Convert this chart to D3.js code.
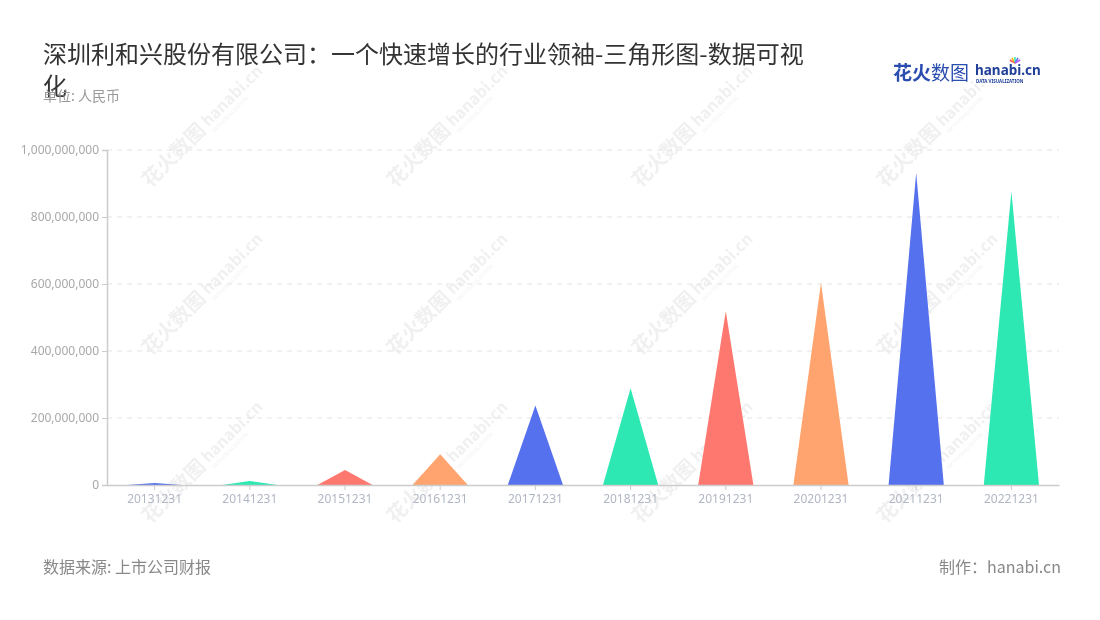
<!DOCTYPE html>
<html><head><meta charset="utf-8">
<script src="https://cdn.jsdelivr.net/npm/d3@7/dist/d3.min.js"></script>
<style>
body{margin:0;background:#fff;}
svg{display:block;font-family:"Noto Sans CJK SC","Noto Sans",sans-serif;}
</style></head>
<body><svg id="c" width="1100" height="620"></svg>
<script>
const titleLines = ["深圳利和兴股份有限公司：一个快速增长的行业领袖-三角形图-数据可视", "化"];
const subtitle = "单位: 人民币";
const source = "数据来源: 上市公司财报";
const maker = "制作：hanabi.cn";
const categories = ["20131231","20141231","20151231","20161231","20171231","20181231","20191231","20201231","20211231","20221231"];
const values = [6000000, 12000000, 45000000, 92000000, 237000000, 289000000, 519000000, 604000000, 932000000, 876000000];
const colors = ["#5671ee","#2de8b3","#ff7870","#ffa46f"];
const yTicks = [0, 200000000, 400000000, 600000000, 800000000, 1000000000];

const svg = d3.select("#c");
const m = {left:107, right:1059, top:150, bottom:485};

// watermark
const wm = svg.append("g").attr("opacity",0.22);
const wmCols=[180,425,670,915], wmRows=[150,318,486];
wmRows.forEach(ry=>wmCols.forEach(cx=>{
  const g = wm.append("g").attr("transform",`translate(${cx},${ry}) rotate(-45)`);
  g.append("text").attr("x",-48).attr("y",6).attr("font-size",20).attr("font-weight","bold").attr("fill","#bbb").text("花火数图");
  g.append("text").attr("x",36).attr("y",4).attr("font-size",16).attr("font-weight","bold").attr("fill","#bbb").text("hanabi.cn");
  g.append("text").attr("x",36).attr("y",12).attr("font-size",5).attr("fill","#bbb").text("DATA VISUALIZATION");
}));

const x = d3.scaleBand().domain(categories).range([m.left, m.right]).paddingInner(0).paddingOuter(0);
const y = d3.scaleLinear().domain([0,1000000000]).range([m.bottom, m.top]);

// grid
svg.append("g").selectAll("line").data(yTicks.filter(d=>d>0)).join("line")
  .attr("x1",m.left).attr("x2",m.right).attr("y1",d=>y(d)).attr("y2",d=>y(d))
  .attr("stroke","#e3e3e3").attr("stroke-dasharray","5,5").attr("stroke-width",1);

// triangles
const bw = x.bandwidth()*0.58;
svg.append("g").selectAll("path").data(values).join("path")
  .attr("d",(d,i)=>{
    const cx = x(categories[i]) + x.bandwidth()/2;
    return `M${cx-bw/2},${y(0)} L${cx},${y(d)} L${cx+bw/2},${y(0)} Z`;
  })
  .attr("fill",(d,i)=>colors[i%4]);

// y axis
const ya = svg.append("g").attr("transform",`translate(${m.left},0)`)
  .call(d3.axisLeft(y).tickValues(yTicks).tickSize(5).tickPadding(3).tickFormat(d3.format(",")));
ya.select(".domain").attr("stroke","#ccc").attr("stroke-width",1.5);
ya.selectAll(".tick line").attr("stroke","#ccc");
ya.selectAll(".tick text").attr("fill","#a8a8a8").attr("font-size",12).attr("font-family","'Noto Sans',sans-serif");

// x axis
const xa = svg.append("g").attr("transform",`translate(0,${m.bottom})`)
  .call(d3.axisBottom(x).tickSize(5).tickPadding(4).tickSizeOuter(0));
xa.select(".domain").attr("stroke","#ccc").attr("stroke-width",1.5);
xa.selectAll(".tick line").attr("stroke","#ccc");
xa.selectAll(".tick text").attr("fill","#b0b6c3").attr("font-size",12).attr("font-family","'Noto Sans',sans-serif");

// title
svg.append("text").attr("x",43).attr("y",63).attr("font-size",24).attr("fill","#333").text(titleLines[0]);
svg.append("text").attr("x",43).attr("y",95).attr("font-size",24).attr("fill","#333").text(titleLines[1]);
svg.append("text").attr("x",43).attr("y",101).attr("font-size",14).attr("fill","#999").text(subtitle);

// logo
const lg = svg.append("g");
lg.append("text").attr("x",893).attr("y",80).attr("font-size",19).attr("font-weight","bold").attr("fill","#2a4db0").text("花火");
lg.append("text").attr("x",931).attr("y",80).attr("font-size",19).attr("fill","#2a4db0").text("数图");
lg.append("text").attr("x",975).attr("y",75).attr("font-size",13.5).attr("font-weight","bold").attr("fill","#1f3f99").attr("font-family","'Noto Sans',sans-serif").text("hanabi.cn");
lg.append("text").attr("x",976).attr("y",83).attr("font-size",4.5).attr("font-weight","bold").attr("fill","#1f3f99").attr("font-family","'Noto Sans',sans-serif").text("DATA VISUALIZATION");
["#ff5a5a","#ffb400","#2de8b3","#5671ee","#b45aff"].forEach((c,i)=>{
  const a = -150 + i*30;
  lg.append("line").attr("x1",1015).attr("y1",63).attr("x2",1015+6*Math.cos(a*Math.PI/180)).attr("y2",63+6*Math.sin(a*Math.PI/180)).attr("stroke",c).attr("stroke-width",1.5);
});

// footer
svg.append("text").attr("x",43).attr("y",573).attr("font-size",16).attr("fill","#888").text(source);
svg.append("text").attr("x",1061).attr("y",573).attr("text-anchor","end").attr("font-size",16).attr("fill","#888").text(maker);
</script></body></html>
